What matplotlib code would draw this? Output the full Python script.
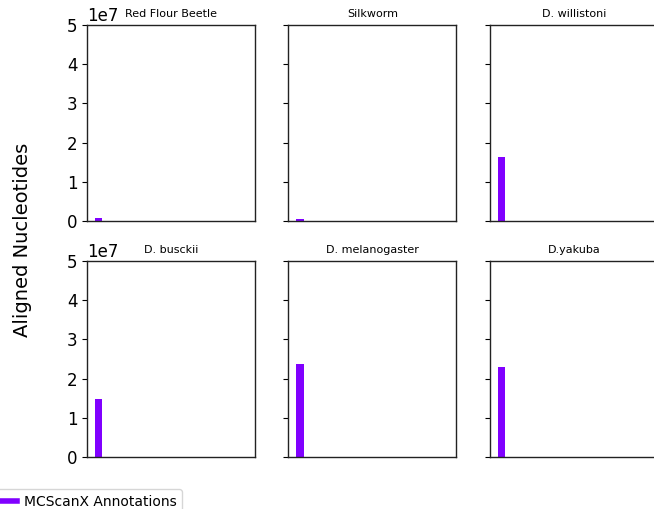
import matplotlib
matplotlib.use("Agg")
import matplotlib.pyplot as plt
from matplotlib.lines import Line2D
import numpy as np

species = ["Red Flour Beetle", "Silkworm", "D. willistoni",
           "D. busckii", "D. melanogaster", "D.yakuba"]
series = ["MCScanX Annotations", "s2", "s3", "s4", "s5", "s6"]

# aligned nucleotides per species, one row per species, one column per series
mcscanx = [7.0e5, 6.0e5, 1.625e7, 1.48e7, 2.37e7, 2.30e7]
others = [
    [1.2e5, 1.2e5, 1.2e5, 1.2e5, 1.2e5],
    [1.2e5, 1.2e5, 1.2e5, 1.2e5, 1.2e5],
    [1.2e5, 1.2e5, 1.2e5, 1.2e5, 1.2e5],
    [1.2e5, 1.2e5, 1.2e5, 1.2e5, 1.2e5],
    [1.2e5, 1.2e5, 1.2e5, 1.2e5, 1.2e5],
    [1.2e5, 1.2e5, 1.2e5, 1.2e5, 1.2e5],
]

colors = plt.cm.rainbow(np.linspace(0, 1, len(series)))

fig, axes = plt.subplots(2, 3, figsize=(6.54, 5.09), dpi=100, sharey=True)
fig.subplots_adjust(left=0.133, right=1.006, top=0.951, bottom=0.102,
                    wspace=0.2, hspace=0.204)

for i, ax in enumerate(axes.flat):
    vals = [mcscanx[i]] + others[i]
    for j, v in enumerate(vals):
        ax.bar(j, v, width=0.27, color=colors[j])
    ax.set_title(species[i], fontsize=8)
    ax.set_xticks([])
    ax.set_ylim(0, 5e7)
    ax.tick_params(axis="y", labelsize=12)
    ax.yaxis.get_offset_text().set_fontsize(12)
    for sp in ax.spines.values():
        sp.set_linewidth(1.0)
        sp.set_color("#222222")

fig.text(0.034, 0.528, "Aligned Nucleotides", rotation=90,
         ha="center", va="center", fontsize=14)

handles = [Line2D([0], [0], color=colors[0], lw=4)]
fig.legend(handles, [series[0]], loc="upper right", fontsize=10,
           handletextpad=0.5, bbox_to_anchor=(182 / 654, 1 - 489 / 509),
           borderaxespad=0)

plt.savefig("out.png", dpi=100)
